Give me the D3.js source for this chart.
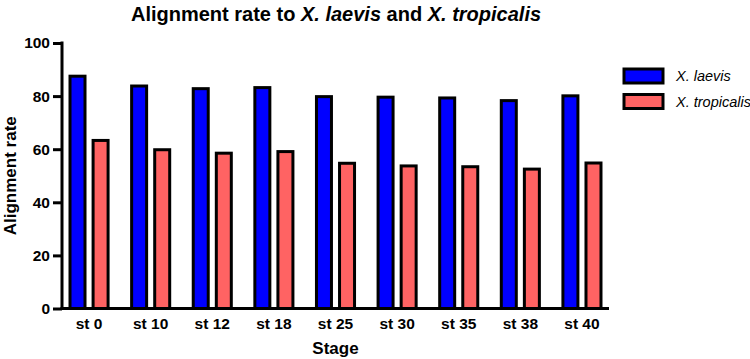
<!DOCTYPE html>
<html>
<head>
<meta charset="utf-8">
<script src="https://cdn.jsdelivr.net/npm/d3@7"></script>
<style>
	body { margin: 0; background: #fff; }
	svg { display: block; font-family: "Liberation Sans", Arial, sans-serif; }
	.tick text { font-weight: bold; font-size: 15.5px; fill: #000; }
</style>
</head>
<body>
<svg id="chart" width="750" height="359"></svg>
<script>
// data
var stages = ['st 0', 'st 10', 'st 12', 'st 18', 'st 25', 'st 30', 'st 35', 'st 38', 'st 40'];
var seriesNames = ['X. laevis', 'X. tropicalis'];
var laevis = [87.5, 83.8, 82.8, 83.2, 79.8, 79.6, 79.3, 78.3, 80.1];
var tropicalis = [63.3, 59.8, 58.5, 59.1, 54.7, 53.7, 53.4, 52.5, 54.8];
var yTicks = [0, 20, 40, 60, 80, 100];
var colors = ['#0000ff', '#ff6363'];

var svg = d3.select('#chart');

var plotLeft = 62, plotRight = 609, plotTop = 43, plotBottom = 308.5;

var x0 = d3.scaleBand()
	.domain(stages)
	.range([plotLeft, plotRight])
	.paddingInner(0.382)
	.paddingOuter(0.13);

var x1 = d3.scaleBand()
	.domain(seriesNames)
	.range([0, x0.bandwidth()])
	.paddingInner(0.35);

var y = d3.scaleLinear()
	.domain([0, 100])
	.range([plotBottom, plotTop]);

var rows = stages.map(function (s, i) {
	return { stage: s, values: [laevis[i], tropicalis[i]] };
});

// bars
var groups = svg.append('g')
	.selectAll('g')
	.data(rows)
	.enter().append('g')
	.attr('transform', function (d) { return 'translate(' + x0(d.stage) + ',0)'; });

groups.selectAll('rect')
	.data(function (d) {
		return d.values.map(function (v, k) { return { key: seriesNames[k], value: v, k: k }; });
	})
	.enter().append('rect')
	.attr('x', function (d) { return x1(d.key); })
	.attr('y', function (d) { return y(d.value); })
	.attr('width', x1.bandwidth())
	.attr('height', function (d) { return y(0) - y(d.value); })
	.attr('fill', function (d) { return colors[d.k]; })
	.attr('stroke', '#000')
	.attr('stroke-width', 3);

// y axis
var yAxis = svg.append('g')
	.attr('transform', 'translate(' + plotLeft + ',0)')
	.call(d3.axisLeft(y).tickValues(yTicks).tickSize(9).tickSizeOuter(0).tickPadding(3));
yAxis.select('.domain').attr('stroke', '#000').attr('stroke-width', 3)
	.attr('d', 'M0,' + (plotTop - 1.5) + 'V' + plotBottom);
yAxis.selectAll('.tick line').attr('stroke', '#000').attr('stroke-width', 3);

// x axis
var xAxis = svg.append('g')
	.attr('transform', 'translate(0,' + plotBottom + ')')
	.call(d3.axisBottom(x0).tickSize(0).tickPadding(10));
xAxis.select('.domain').attr('stroke', '#000').attr('stroke-width', 3)
	.attr('d', 'M' + (plotLeft - 1.5) + ',0H' + plotRight);
xAxis.selectAll('.tick text').attr('dy', '0.7em');

// titles
svg.append('text')
	.attr('x', 336)
	.attr('y', 21)
	.attr('text-anchor', 'middle')
	.style('font-weight', 'bold')
	.style('font-size', '20px')
	.html('Alignment rate to <tspan font-style="italic">X. laevis</tspan> and <tspan font-style="italic">X. tropicalis</tspan>');

svg.append('text')
	.attr('transform', 'translate(16,' + ((plotTop + plotBottom) / 2) + ') rotate(-90)')
	.attr('text-anchor', 'middle')
	.style('font-weight', 'bold')
	.style('font-size', '17px')
	.text('Alignment rate');

svg.append('text')
	.attr('x', (plotLeft + plotRight) / 2)
	.attr('y', 354)
	.attr('text-anchor', 'middle')
	.style('font-weight', 'bold')
	.style('font-size', '17px')
	.text('Stage');

// legend
var legend = svg.append('g')
	.selectAll('g')
	.data(seriesNames)
	.enter().append('g')
	.attr('transform', function (d, i) { return 'translate(624,' + (69 + i * 25.5) + ')'; });

legend.append('rect')
	.attr('width', 39)
	.attr('height', 14)
	.attr('fill', function (d, i) { return colors[i]; })
	.attr('stroke', '#000')
	.attr('stroke-width', 3);

legend.append('text')
	.attr('x', 52)
	.attr('y', 7)
	.attr('dy', '0.35em')
	.style('font-style', 'italic')
	.style('font-size', '14.5px')
	.text(function (d) { return d; });
</script>
</body>
</html>
